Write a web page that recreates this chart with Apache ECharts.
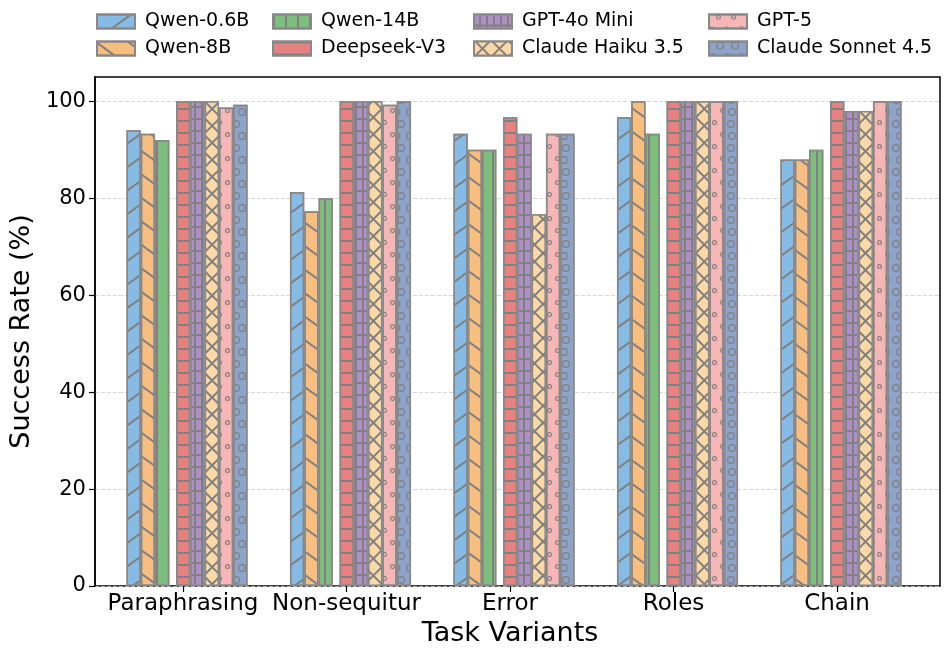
<!DOCTYPE html>
<html><head><meta charset="utf-8">
<script src="https://cdn.jsdelivr.net/npm/echarts@6/dist/echarts.min.js"></script>
<style>html,body{margin:0;padding:0;background:#fff}#c{width:947px;height:653px}</style>
</head><body><div id="c"></div>
<script>
const categories = ['Paraphrasing', 'Non-sequitur', 'Error', 'Roles', 'Chain'];
const modelNames = ['Qwen-0.6B', 'Qwen-8B', 'Qwen-14B', 'Deepseek-V3', 'GPT-4o Mini', 'Claude Haiku 3.5', 'GPT-5', 'Claude Sonnet 4.5'];
const qwen06 = [94.0, 81.3, 93.3, 96.7, 88.0];
const qwen8 = [93.3, 77.3, 90.0, 100, 88.0];
const qwen14 = [92.0, 80.0, 90.0, 93.3, 90.0];
const deepseek = [100, 100, 96.7, 100, 100];
const gpt4o = [100, 100, 93.3, 100, 98.0];
const haiku = [100, 100, 76.7, 100, 98.0];
const gpt5 = [98.7, 99.3, 93.3, 100, 100];
const sonnet = [99.3, 100, 93.3, 100, 100];
const yTicks = [0, 20, 40, 60, 80, 100];

const FONT = 'DejaVu Sans';
const HATCH = '#808080';
const EDGE = '#888888';
const BW = 14.3;

function ring(ri) {
  const a = 10 - ri, b = 10 + ri;
  return 'path://M0,10A10,10 0 1,1 20,10A10,10 0 1,1 0,10Z M' + a + ',10A' + ri + ',' + ri + ' 0 1,0 ' + b + ',10A' + ri + ',' + ri + ' 0 1,0 ' + a + ',10Z';
}

const styles = [
  { color: '#85BBE5', decal: { symbol: 'rect', symbolSize: 1, color: HATCH, dashArrayX: [1, 0], dashArrayY: [1.2, 17], rotation: -Math.PI / 5 } },
  { color: '#F7BE7F', decal: { symbol: 'rect', symbolSize: 1, color: HATCH, dashArrayX: [1, 0], dashArrayY: [1.2, 17], rotation: Math.PI / 5 } },
  { color: '#7DBE7D', decal: { symbol: 'rect', symbolSize: 1, color: HATCH, dashArrayX: [1.3, 10], dashArrayY: [1, 0], rotation: 0 } },
  { color: '#E6817F', decal: { symbol: 'rect', symbolSize: 1, color: HATCH, dashArrayX: [1, 0], dashArrayY: [1.3, 10], rotation: 0 } },
  { color: '#AE8FC8', decal: { symbol: 'rect', symbolSize: 1, color: '#AE8FC8', backgroundColor: HATCH, dashArrayX: [4.2, 1.2], dashArrayY: [10, 1.3], rotation: 0 } },
  { color: '#FBD8A5', decal: { symbol: 'rect', symbolSize: 1, color: '#FBD8A5', backgroundColor: HATCH, dashArrayX: [10, 1.1], dashArrayY: [10, 1.1], rotation: Math.PI / 4 } },
  { color: '#F6B6B5', decal: { symbol: ring(5.5), symbolSize: 1, symbolKeepAspect: true, color: HATCH, dashArrayX: [[4.8, 9.2], [0, 7, 4.8, 2.2]], dashArrayY: [4.8, 6.5], rotation: 0 } },
  { color: '#8EA3C9', decal: { symbol: ring(7), symbolSize: 1, symbolKeepAspect: true, color: HATCH, dashArrayX: [[8, 6], [0, 7, 8, 0]], dashArrayY: [8, 3.5], rotation: 0 } }
];
const values = [qwen06, qwen8, qwen14, deepseek, gpt4o, haiku, gpt5, sonnet];

const series = [];
function dummy(w) {
  return { type: 'bar', name: '', xAxisIndex: 1, yAxisIndex: 1, barWidth: w, barGap: '0%', silent: true, data: categories.map(() => '-') };
}
function real(i) {
  return {
    type: 'bar', name: modelNames[i], xAxisIndex: 1, yAxisIndex: 1, barWidth: BW, barGap: '0%',
    data: values[i],
    itemStyle: { color: styles[i].color, borderColor: EDGE, borderWidth: 1.5, decal: styles[i].decal }
  };
}
series.push(dummy(8));
series.push(real(0), real(1), real(2));
series.push(dummy(6.7));
series.push(real(3), real(4), real(5), real(6), real(7));

const legendCols = [[0, 1], [2, 3], [4, 5], [6, 7]];
const legendLefts = [96, 272, 473, 708];
const legends = legendCols.map((col, k) => ({
  orient: 'vertical', left: legendLefts[k], top: 11, padding: 0, itemGap: 6, itemWidth: 38, itemHeight: 14,
  icon: 'rect',
  data: col.map(i => modelNames[i]), selectedMode: false,
  textStyle: { fontFamily: FONT, fontSize: 19, color: '#000', lineHeight: 21, padding: [0, 0, 0, 5] }
}));

const chart = echarts.init(document.getElementById('c'), null, { renderer: 'canvas' });
chart.setOption({
  animation: false,
  backgroundColor: '#fff',
  aria: { enabled: false },
  legend: legends,
  grid: [
    { left: 88, right: 7, top: 77, bottom: 67, show: true, borderColor: '#000', borderWidth: 1.5, backgroundColor: 'transparent' },
    { left: 101.25, right: 28.25, top: 77, bottom: 67 }
  ],
  xAxis: [
    { type: 'value', gridIndex: 0, show: false, min: 0, max: 1 },
    {
      type: 'category', gridIndex: 1, data: categories,
      axisLine: { show: false },
      axisTick: { show: true, alignWithLabel: true, length: 6, interval: 0, lineStyle: { color: '#000', width: 1.2 } },
      axisLabel: { fontFamily: FONT, fontSize: 23, color: '#000', margin: 7, interval: 0 },
      name: 'Task Variants', nameLocation: 'middle', nameGap: 30,
      nameTextStyle: { fontFamily: FONT, fontSize: 27, color: '#000' }
    }
  ],
  yAxis: [
    {
      type: 'value', gridIndex: 0, min: 0, max: 105, interval: 20,
      axisLine: { show: true, lineStyle: { color: '#000', width: 1.5 } },
      axisTick: { show: true, length: 6, customValues: yTicks, lineStyle: { color: '#000', width: 1.2 } },
      axisLabel: { fontFamily: FONT, fontSize: 21, color: '#000', margin: 9, customValues: yTicks,
        formatter: v => (v % 20 === 0 ? String(v) : '') },
      splitLine: { show: true, lineStyle: { color: '#cccccc', type: [4, 2], width: 0.8 } },
      name: 'Success Rate (%)', nameLocation: 'middle', nameGap: 50,
      nameTextStyle: { fontFamily: FONT, fontSize: 27, color: '#000' }
    },
    { type: 'value', gridIndex: 1, min: 0, max: 105, show: false }
  ],
  series: series
});
</script></body></html>
